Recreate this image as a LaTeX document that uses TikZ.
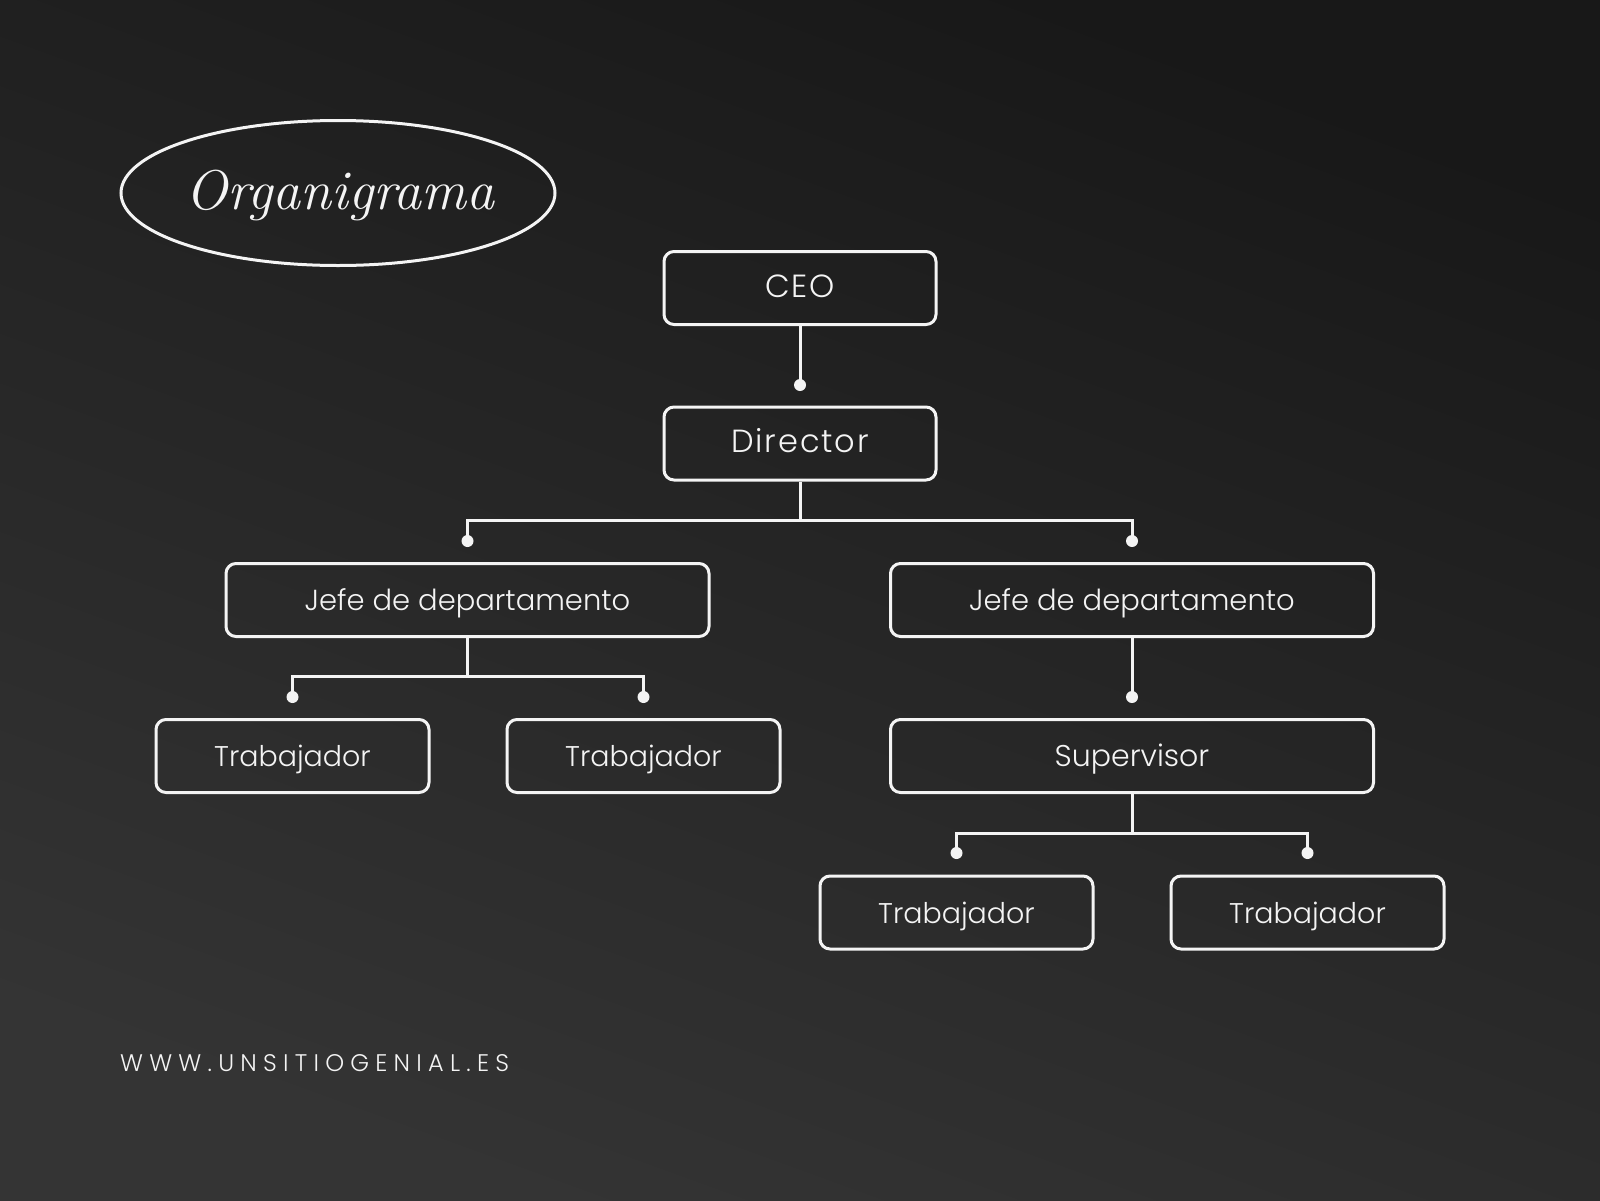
\documentclass[tikz,border=0pt]{standalone}
\usepackage{fontspec}
\usetikzlibrary{shapes.geometric}
\newfontfamily\boxfont{Poppins Light}
\newfontfamily\topfont{Poppins Light}[LetterSpace=6]
\newfontfamily\webfont{Poppins Light}[LetterSpace=26]
\definecolor{bgtop}{HTML}{181818}
\definecolor{bgbot}{HTML}{343434}
\definecolor{chalk}{HTML}{F4F4F4}
\begin{document}
\begin{tikzpicture}[x=1pt,y=-1pt,
  box/.style={draw=chalk, line width=3pt, rounded corners=10pt, minimum height=73pt,
    text=chalk, inner sep=0pt, text height=25pt, text depth=4pt},
  topbox/.style={box, minimum width=272pt, text depth=7pt, font=\topfont\fontsize{32}{36}\selectfont},
  wide/.style={box, minimum width=483pt, font=\boxfont\fontsize{29}{34}\selectfont},
  small/.style={box, minimum width=273pt, font=\boxfont\fontsize{28.5}{34}\selectfont},
  link/.style={draw=chalk, line width=3pt},
  dot/.style={fill=chalk}]
\shade[top color=bgtop, bottom color=bgbot, shading angle=-20] (0,0) rectangle (1600,1200);
\useasboundingbox (0,0) rectangle (1600,1200);
% title
\node[draw=chalk, line width=3pt, ellipse, minimum width=434pt, minimum height=145pt, inner sep=0pt] (title) at (338,193) {};
\node[text=chalk, font=\itshape\fontsize{56}{60}\selectfont] (titletext) at (340,195) {Organigrama};
% boxes
\node[topbox] (ceo) at (800,288) {CEO};
\node[topbox] (dir) at (800,443.5) {Director};
\node[wide] (jL) at (467.5,600) {Jefe de departamento};
\node[wide] (jR) at (1132,600) {Jefe de departamento};
\node[small] (tL1) at (292.5,756) {Trabajador};
\node[small] (tL2) at (643.5,756) {Trabajador};
\node[wide, font=\boxfont\fontsize{30}{34}\selectfont] (sup) at (1132,756) {Supervisor};
\node[small] (tR1) at (956.5,912.5) {Trabajador};
\node[small] (tR2) at (1307.5,912.5) {Trabajador};
% connector points
\coordinate (dDir) at (800,385);
\coordinate (bDir) at (800,520);
\coordinate (dJL) at (467.5,541);
\coordinate (dJR) at (1132,541);
\coordinate (bJL) at (467.5,676);
\coordinate (dT1) at (292.5,697);
\coordinate (dT2) at (643.5,697);
\coordinate (dSup) at (1132,697);
\coordinate (bSup) at (1132,833);
\coordinate (dT3) at (956.5,853);
\coordinate (dT4) at (1307.5,853);
% connectors
\draw[link] (ceo.south) -- (dDir);
\draw[link] (dir.south) -- (bDir) -| (dJL);
\draw[link] (bDir) -| (dJR);
\draw[link] (jL.south) -- (bJL) -| (dT1);
\draw[link] (bJL) -| (dT2);
\draw[link] (jR.south) -- (dSup);
\draw[link] (sup.south) -- (bSup) -| (dT3);
\draw[link] (bSup) -| (dT4);
\foreach \p in {dDir,dJL,dJR,dT1,dT2,dSup,dT3,dT4} \fill[dot] (\p) circle (6pt);
% website
\node[anchor=west, text=chalk, font=\webfont\fontsize{24}{27}\selectfont, inner sep=0pt] (web) at (120,1063) {WWW.UNSITIOGENIAL.ES};
\end{tikzpicture}
\end{document}
